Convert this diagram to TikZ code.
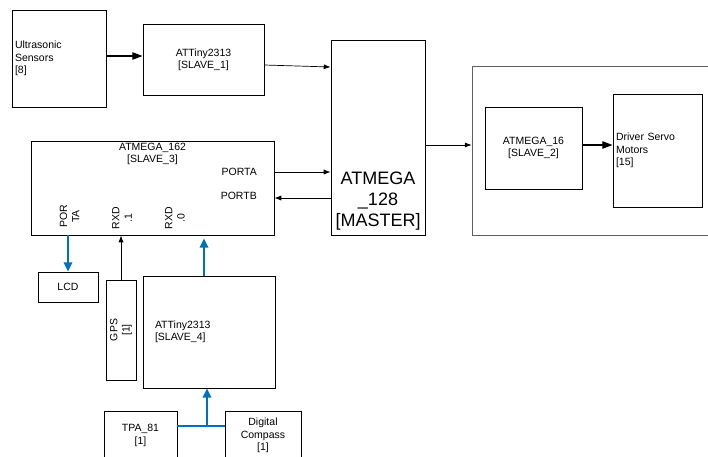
\documentclass[tikz,border=0pt]{standalone}
\usepackage{fontspec}
\setmainfont{Liberation Sans}
\usetikzlibrary{arrows.meta,positioning}
\definecolor{linkblue}{HTML}{0070C0}
\definecolor{frame}{HTML}{606060}

\begin{document}
\begin{tikzpicture}[x=1pt,y=-1pt, every node/.style={font=\fontsize{10.5}{12.3}\selectfont,align=center},
  blk/.style={draw,line width=0.9pt,inner sep=3pt},
  thin/.style={-{Latex[length=2.4mm,width=1.8mm]},line width=0.7pt},
  heavy/.style={-{Triangle[length=3.6mm,width=2.6mm]},line width=1.3pt},
  bluelink/.style={-{Triangle[length=3.2mm,width=3mm]},line width=1.3pt,linkblue}]
\path[use as bounding box,clip] (0,0) rectangle (708,456);
% sensors and slaves
\node[blk,minimum width=94pt,minimum height=97pt,text width=88pt,align=left] (sonar) at (59,58.5) {Ultrasonic\\Sensors\\{}[8]};
\node[blk,minimum width=121pt,minimum height=71pt] (slave1) at (203.5,59.5) {ATTiny2313\\{}[SLAVE\_1]};
\node[blk,minimum width=94pt,minimum height=195pt] (master) at (378,137.5) {};
\node[anchor=south,inner sep=1pt,font=\fontsize{18}{21}\selectfont] (mastername) at ([yshift=4pt]master.south) {ATMEGA\\\_128\\{}[MASTER]};
\node[blk,minimum width=243pt,minimum height=94pt] (slave3) at (152.5,188) {};
\node[below=1pt of slave3.north,inner sep=1pt] (s3name) {ATMEGA\_162\\{}[SLAVE\_3]};
\node[anchor=east,inner sep=0pt] (porta) at (257,172) {PORTA};
\node[anchor=east,inner sep=0pt] (portb) at (257,196) {PORTB};
\node[rotate=90,inner sep=0pt] (pinlcd) at (69.5,216.5) {POR\\TA};
\node[rotate=90,inner sep=0pt] (pingps) at (122,218) {RXD\\.1};
\node[rotate=90,inner sep=0pt] (pincmp) at (175,218) {RXD\\.0};
% peripherals
\node[blk,minimum width=60pt,minimum height=30pt] (lcd) at (68,287) {LCD};
\node[blk,minimum width=30pt,minimum height=100pt] (gps) at (121,330) {};
\node[rotate=90,inner sep=0pt] (gpsname) at (gps.center) {GPS\\{}[1]};
\node[blk,minimum width=132pt,minimum height=112pt,text width=108pt,align=left] (slave4) at (209,332) {ATTiny2313\\{}[SLAVE\_4]};
\node[blk,minimum width=73pt,minimum height=49pt] (tpa) at (140.5,435.5) {TPA\_81\\{}[1]};
\node[blk,minimum width=76pt,minimum height=49pt] (compass) at (263,435.5) {Digital\\Compass\\{}[1]};
% drive group
\node[draw=frame,line width=0.6pt,minimum width=250pt,minimum height=169pt] (drive) at (597,150.5) {};
\node[blk,minimum width=97pt,minimum height=82pt] (slave2) at (533.5,148) {ATMEGA\_16\\{}[SLAVE\_2]};
\node[blk,minimum width=89pt,minimum height=113pt,text width=83pt,align=left] (servo) at (657.5,150.5) {Driver Servo\\Motors\\{}[15]};
% connectors
\draw[heavy] ([yshift=2.5pt]sonar.east) -- ([yshift=2.5pt]sonar.east -| slave1.west);
\draw[thin] ([yshift=-5.5pt]slave1.east) -- ([yshift=70.5pt]master.west);
\draw[thin] ([yshift=16pt]slave3.east) -- ([yshift=16pt]slave3.east -| master.west);
\draw[thin] ([yshift=-10pt]slave3.east -| master.west) -- ([yshift=-10pt]slave3.east);
\draw[thin] ([yshift=-7.5pt]master.east) -- ([yshift=-7.5pt]master.east -| drive.west);
\draw[heavy] ([yshift=3pt]slave2.east) -- ([yshift=3pt]slave2.east -| servo.west);
\draw[bluelink] (lcd.north |- slave3.south) -- (lcd.north);
\draw[thin] (gps.north) -- (gps.north |- slave3.south);
\draw[bluelink,shorten >=3pt] ([xshift=-5pt]slave4.north) -- ([xshift=-5pt]slave4.north |- slave3.south);
\draw[linkblue,line width=1.3pt] ([yshift=9.5pt]tpa.east) -- ([yshift=9.5pt]tpa.east -| compass.west);
\coordinate (merge) at (207,426);
\draw[bluelink] (merge) -- (merge |- slave4.south);
\end{tikzpicture}
\end{document}
